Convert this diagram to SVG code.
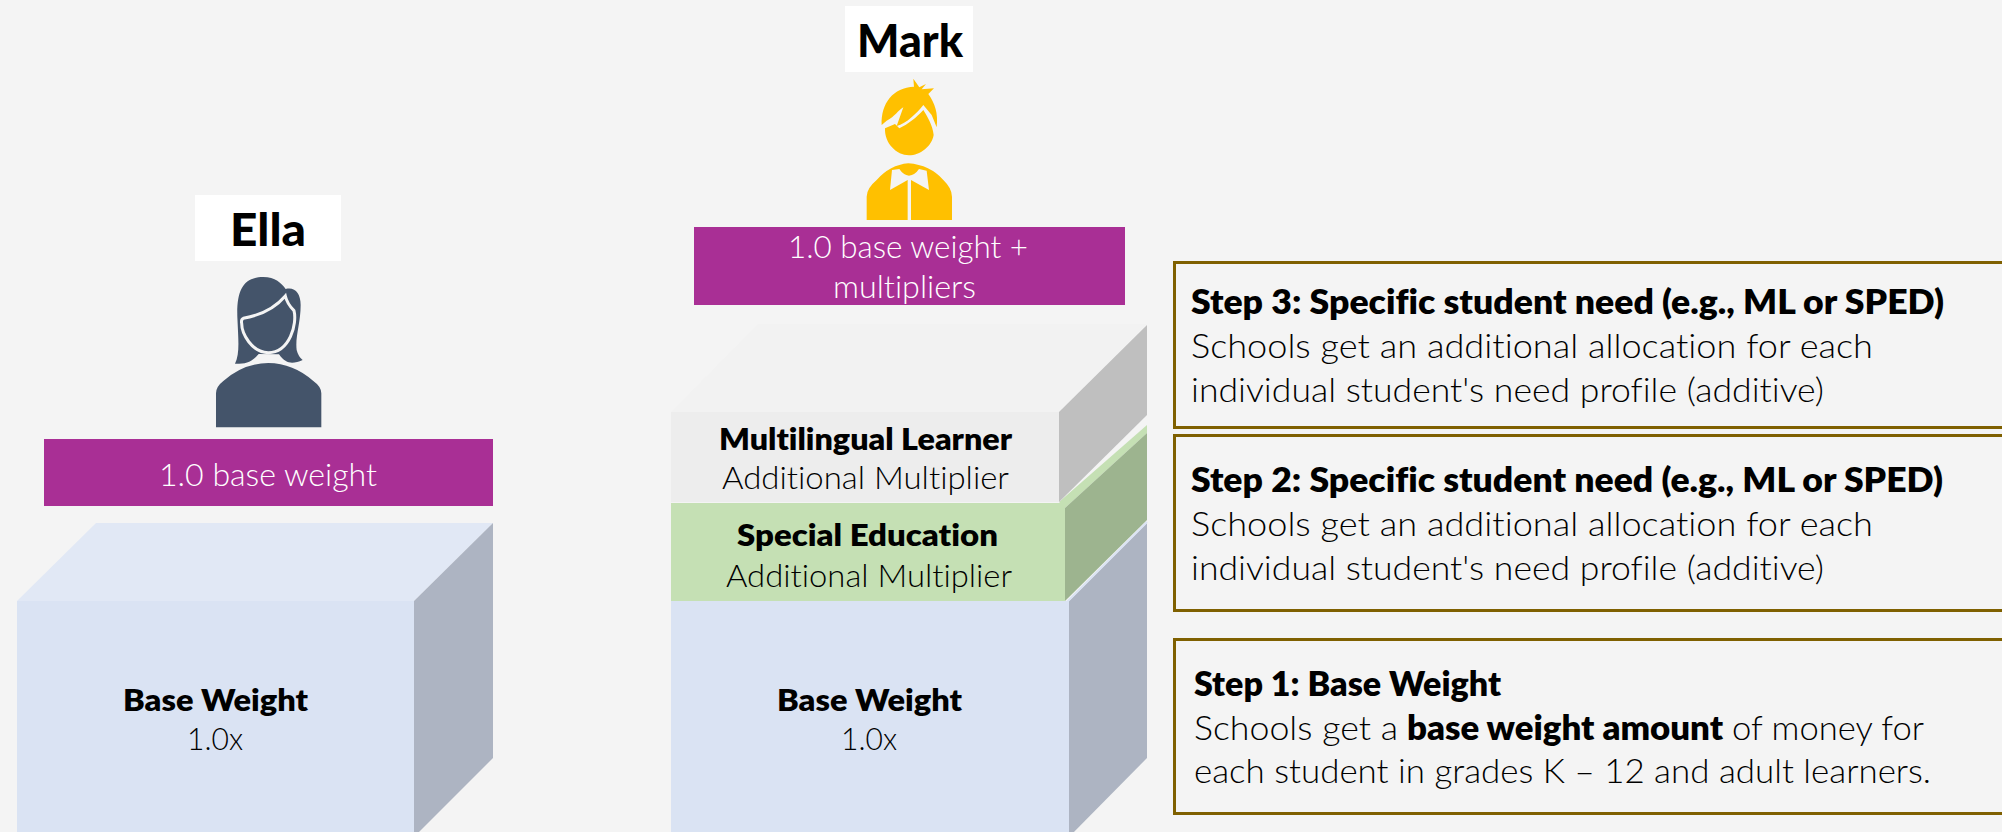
<svg xmlns="http://www.w3.org/2000/svg" width="2002" height="832" viewBox="0 0 2002 832">
<style>
text{font-family:"Lato","Liberation Sans",sans-serif;fill:#000;font-variant-ligatures:none}
.b{font-weight:800;font-size:31px}
.r{font-weight:300;font-size:31px}
.n{font-weight:900;font-size:46px;text-anchor:start}
.w{font-weight:300;font-size:31px;fill:#fff}
.bar{fill:#a92f95}
.step{fill:none;stroke:#7f6000;stroke-width:3}
.s{font-size:33px}
</style>
<rect width="2002" height="832" fill="#f4f4f4"/>
<g id="ella">
<rect x="195" y="195" width="146" height="66" fill="#fff"/>
<text class="n" x="230" y="246" textLength="76" lengthAdjust="spacingAndGlyphs">Ella</text>
<g transform="translate(180,190) scale(.3333)" fill="#44546a">
<path d="M108 712V610Q108 590 130 573Q190 520 265 519Q340 520 400 573Q424 590 424 610V712Z"/>
<path d="M165 521C180 490 175 450 172 380C170 300 190 262 250 261C285 261 305 280 317 297C345 290 362 310 362 345C362 400 345 440 350 480Q355 500 368 510C340 522 320 525 297 493L236 492C220 510 205 525 165 521Z"/>
<path d="M190 385C230 378 280 360 316 318C320 335 330 350 342 362C352 400 330 488 265 488C215 488 185 430 185 400C183 390 185 387 190 385Z" stroke="#f4f4f4" stroke-width="9"/>
</g>
</g>
<g id="ella-bar">
<rect class="bar" x="44" y="439" width="449" height="67"/>
<text class="w" x="159" y="486" textLength="218" lengthAdjust="spacingAndGlyphs">1.0 base weight</text>
</g>
<g id="ella-base">
<polygon points="17,601 96,523 493,523 414,601" fill="#e1e8f5"/>
<polygon points="414,601 493,523 493,758 414,837" fill="#adb4c2"/>
<rect x="17" y="601" width="397" height="231" fill="#dae3f3"/>
<text class="b" x="123" y="711" textLength="185" lengthAdjust="spacingAndGlyphs">Base Weight</text>
<text class="r" x="187" y="750" textLength="56" lengthAdjust="spacingAndGlyphs">1.0x</text>
</g>
<g id="mark">
<rect x="845" y="6" width="128" height="66" fill="#fff"/>
<text class="n" x="857" y="57" textLength="106" lengthAdjust="spacingAndGlyphs">Mark</text>
<g transform="translate(840,0) scale(.3333)" fill="#ffc000">
<path d="M125 375C122 310 160 262 222 260L220 236L238 262L258 252L245 268L282 265L265 282C285 310 295 340 290 382L275 345L250 315C230 340 200 370 170 378L190 322C175 330 165 350 140 362Z"/>
<path d="M135 385L165 372L178 385C205 372 230 352 250 330C262 350 278 375 281 405C275 440 240 466 207 466C170 466 133 430 135 385Z"/>
<path d="M80 660V590Q80 565 110 540Q150 495 205 490Q270 495 310 540Q336 565 336 590V660Z"/>
<path d="M156 510L178 507Q190 525 207 527Q225 525 237 507L260 512L267 570L213 540V660H203V540L150 570Z" fill="#f4f4f4"/>
</g>
</g>
<g id="mark-bar">
<rect class="bar" x="694" y="227" width="431" height="78"/>
<text class="w" x="788" y="258" textLength="240" lengthAdjust="spacingAndGlyphs">1.0 base weight +</text>
<text class="w" x="833" y="298" textLength="143" lengthAdjust="spacingAndGlyphs">multipliers</text>
</g>
<g id="mark-base">
<polygon points="1069,601 1147,523 1147,758 1069,837" fill="#adb4c2"/>
<line x1="1067" y1="602" x2="1147" y2="522" stroke="#dae3f3" stroke-width="2"/>
<rect x="671" y="601" width="398" height="231" fill="#dae3f3"/>
<text class="b" x="777" y="711" textLength="185" lengthAdjust="spacingAndGlyphs">Base Weight</text>
<text class="r" x="841" y="750" textLength="56" lengthAdjust="spacingAndGlyphs">1.0x</text>
</g>
<g id="mark-special-education">
<polygon points="1059,502 1147,425 1147,433 1065,508" fill="#c5e0b4"/>
<polygon points="1065,508 1147,433 1147,520 1065,601" fill="#9db48f"/>
<rect x="671" y="503" width="394" height="98" fill="#c5e0b4"/>
<text class="b" x="737" y="546" textLength="261" lengthAdjust="spacingAndGlyphs">Special Education</text>
<text class="r" x="726" y="587" textLength="286" lengthAdjust="spacingAndGlyphs">Additional Multiplier</text>
</g>
<g id="mark-multilingual">
<polygon points="671,412 758,324 1147,324 1059,412" fill="#f2f2f2"/>
<polygon points="1059,412 1147,325 1147,415 1059,502" fill="#bfbfbf"/>
<rect x="671" y="412" width="388" height="90" fill="#ededed"/>
<text class="b" x="719" y="450" textLength="293" lengthAdjust="spacingAndGlyphs">Multilingual Learner</text>
<text class="r" x="722" y="489" textLength="287" lengthAdjust="spacingAndGlyphs">Additional Multiplier</text>
</g>
<g id="step-3">
<rect class="step" x="1174.5" y="262.5" width="840" height="165"/>
<text class="b s" x="1191" y="314" textLength="753" lengthAdjust="spacingAndGlyphs">Step 3: Specific student need (e.g., ML or SPED)</text>
<text class="r s" x="1191" y="358" textLength="682" lengthAdjust="spacingAndGlyphs">Schools get an additional allocation for each</text>
<text class="r s" x="1191" y="402" textLength="633" lengthAdjust="spacingAndGlyphs">individual student's need profile (additive)</text>
</g>
<g id="step-2">
<rect class="step" x="1174.5" y="435.5" width="840" height="175"/>
<text class="b s" x="1191" y="492" textLength="752" lengthAdjust="spacingAndGlyphs">Step 2: Specific student need (e.g., ML or SPED)</text>
<text class="r s" x="1191" y="536" textLength="682" lengthAdjust="spacingAndGlyphs">Schools get an additional allocation for each</text>
<text class="r s" x="1191" y="580" textLength="633" lengthAdjust="spacingAndGlyphs">individual student's need profile (additive)</text>
</g>
<g id="step-1">
<rect class="step" x="1174.5" y="639.5" width="840" height="174"/>
<text class="b s" x="1194" y="696" textLength="307" lengthAdjust="spacingAndGlyphs">Step 1: Base Weight</text>
<text class="r s" y="740"><tspan x="1194" textLength="204" lengthAdjust="spacingAndGlyphs">Schools get a</tspan> <tspan class="b s" x="1407" textLength="316" lengthAdjust="spacingAndGlyphs">base weight amount</tspan> <tspan x="1732" textLength="192" lengthAdjust="spacingAndGlyphs">of money for</tspan></text>
<text class="r s" x="1194" y="783" textLength="737" lengthAdjust="spacingAndGlyphs">each student in grades K – 12 and adult learners.</text>
</g>
<g id="connectors"></g>
</svg>
